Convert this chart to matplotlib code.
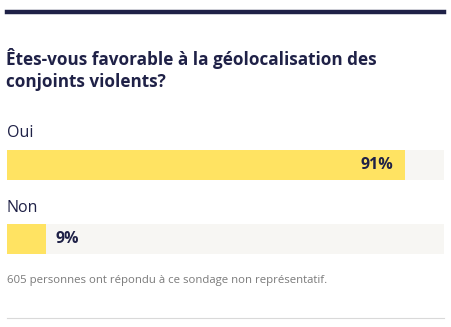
import matplotlib.pyplot as plt

# données du sondage
categories = ["Oui", "Non"]
values = [91, 9]
value_labels = ["91%", "9%"]
title = "Êtes-vous favorable à la géolocalisation des\nconjoints violents?"
note = "605 personnes ont répondu à ce sondage non représentatif."

NAVY = "#1f2147"
YELLOW = "#ffe362"
TRACK = "#f7f6f3"
FONT = "Open Sans"
W, H = 452, 327

fig = plt.figure(figsize=(W / 100, H / 100), dpi=100)
fig.patch.set_facecolor("white")


def px(x, y):
    # pixels (origine en haut à gauche) -> coordonnées figure
    return x / W, 1 - y / H


# barre sombre en haut et filet gris en bas
fig.add_artist(plt.Line2D([7 / W, 444 / W], [1 - 12 / H] * 2, color=NAVY, lw=3.2))
fig.add_artist(plt.Line2D([7 / W, 444 / W], [1 - 318 / H] * 2, color="#d9d9d9", lw=0.8))

fig.text(*px(6, 87), title, fontsize=12.3, fontweight="bold", color=NAVY,
         family=FONT, va="baseline", linespacing=1.3)

# axes des barres : de y=150 à y=254 px
bar_h = 0.396
ax = fig.add_axes([7 / W, 1 - 254 / H, 437 / W, 104 / H])
pos = range(len(categories))
ax.barh(pos, [100] * len(values), height=bar_h, color=TRACK, zorder=1)
ax.barh(pos, values, height=bar_h, color=YELLOW, zorder=2)
ax.set_xlim(0, 100)
ax.set_ylim(len(categories) - 1 + bar_h / 2, -bar_h / 2)
ax.axis("off")

for i, (cat, v, lab) in enumerate(zip(categories, values, value_labels)):
    ax.text(0, i - bar_h / 2 - 0.17, cat, fontsize=11.5, color=NAVY, family=FONT,
            va="baseline", ha="left", clip_on=False)
    if v > 50:
        ax.text(v - 2.5, i, lab, fontsize=11.5, fontweight="bold", color=NAVY,
                family=FONT, va="center", ha="right")
    else:
        ax.text(v + 2.2, i, lab, fontsize=11.5, fontweight="bold", color=NAVY,
                family=FONT, va="center", ha="left")

fig.text(*px(7, 283), note, fontsize=8.2, color="#7a7a7a", family=FONT, va="baseline")

fig.savefig("out.png", dpi=100)
